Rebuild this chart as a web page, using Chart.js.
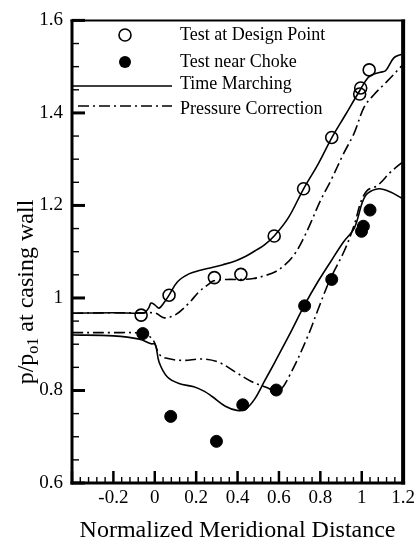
<!DOCTYPE html>
<html>
<head>
<meta charset="utf-8">
<script src="https://cdn.jsdelivr.net/npm/chart.js@4.4.1/dist/chart.umd.min.js"></script>
<style>
  html, body { margin: 0; padding: 0; background: #fff; }
  #wrap { width: 419px; height: 547px; position: relative; }
</style>
</head>
<body>
<div id="wrap"><canvas id="c"></canvas></div>
<script>
// ---- data ----
const designX = [-0.066, 0.069, 0.288, 0.416, 0.577, 0.719, 0.855, 0.99, 0.995, 1.036];
const designY = [0.963, 1.006, 1.044, 1.051, 1.134, 1.236, 1.347, 1.441, 1.454, 1.493];

const chokeX = [-0.058, 0.077, 0.298, 0.425, 0.587, 0.724, 0.855, 0.999, 1.008, 1.04];
const chokeY = [0.923, 0.744, 0.690, 0.769, 0.801, 0.983, 1.040, 1.144, 1.155, 1.190];

const tmDesignX = [-0.4, -0.2, -0.08, -0.05, -0.03, -0.018, 0.0, 0.021, 0.045, 0.069, 0.11, 0.165, 0.22, 0.277, 0.33, 0.389, 0.44, 0.485, 0.53, 0.577, 0.645, 0.719, 0.79, 0.855, 0.92, 0.99, 1.03, 1.059, 1.09, 1.115, 1.155, 1.187, 1.2];
const tmDesignY = [0.967, 0.968, 0.967, 0.968, 0.978, 0.989, 0.985, 0.978, 0.99, 1.006, 1.035, 1.052, 1.06, 1.066, 1.072, 1.080, 1.09, 1.102, 1.115, 1.134, 1.173, 1.236, 1.29, 1.346, 1.395, 1.448, 1.476, 1.484, 1.488, 1.491, 1.519, 1.526, 1.527];

const pcDesignX = [-0.4, -0.2, -0.05, 0.005, 0.046, 0.101, 0.165, 0.213, 0.261, 0.285, 0.349, 0.416, 0.477, 0.53, 0.58, 0.63, 0.676, 0.72, 0.756, 0.8, 0.852, 0.91, 0.964, 1.012, 1.06, 1.12, 1.171, 1.2];
const pcDesignY = [0.967, 0.968, 0.968, 0.967, 0.957, 0.964, 0.989, 1.013, 1.030, 1.037, 1.040, 1.040, 1.042, 1.048, 1.056, 1.072, 1.095, 1.13, 1.165, 1.21, 1.255, 1.31, 1.357, 1.413, 1.44, 1.467, 1.491, 1.505];

const tmChokeX = [-0.4, -0.2, -0.074, -0.018, 0.002, 0.021, 0.061, 0.117, 0.189, 0.24, 0.277, 0.341, 0.397, 0.437, 0.485, 0.53, 0.58, 0.65, 0.724, 0.788, 0.852, 0.91, 0.964, 1.004, 1.028, 1.083, 1.139, 1.195];
const tmChokeY = [0.92, 0.918, 0.911, 0.901, 0.900, 0.861, 0.829, 0.815, 0.808, 0.798, 0.787, 0.766, 0.757, 0.759, 0.783, 0.82, 0.861, 0.92, 0.985, 1.035, 1.08, 1.12, 1.151, 1.208, 1.226, 1.236, 1.229, 1.215];

const pcChokeX = [-0.4, -0.2, -0.058, -0.011, 0.021, 0.053, 0.133, 0.229, 0.309, 0.389, 0.469, 0.549, 0.597, 0.66, 0.74, 0.788, 0.828, 0.852, 0.916, 0.964, 0.996, 1.028, 1.076, 1.139, 1.195];
const pcChokeY = [0.925, 0.925, 0.923, 0.911, 0.879, 0.870, 0.865, 0.868, 0.861, 0.840, 0.819, 0.805, 0.797, 0.84, 0.918, 0.974, 1.02, 1.045, 1.102, 1.158, 1.208, 1.233, 1.243, 1.272, 1.293];

const xTickValues = [-0.2, 0, 0.2, 0.4, 0.6, 0.8, 1, 1.2];
const yTickValues = [0.6, 0.8, 1, 1.2, 1.4, 1.6];

const seriesLabels = ['Test at Design Point', 'Test near Choke', 'Time Marching', 'Pressure Correction'];
const xTitle = 'Normalized Meridional Distance';
const yTitleParts = ['p/p', 'o1', ' at casing wall'];

// ---- helpers ----
const pts = (xs, ys) => xs.map((x, i) => ({ x: x, y: ys[i] }));
const SERIF = "'Liberation Serif', 'Times New Roman', serif";
const DASHDOT = [11, 4, 2, 4];

const lineDs = (label, xs, ys, dash, showInLegend) => ({
  label: label,
  data: pts(xs, ys),
  showLine: true,
  borderColor: '#000',
  borderWidth: 1.6,
  borderDash: dash,
  pointRadius: 0,
  tension: 0.35,
  fill: false,
  order: 2,
  legendShow: showInLegend
});

const datasets = [
  { label: seriesLabels[0], data: pts(designX, designY), showLine: false, pointRadius: 6,
    pointBorderWidth: 1.6, pointBorderColor: '#000', pointBackgroundColor: 'rgba(0,0,0,0)',
    borderColor: '#000', backgroundColor: 'rgba(0,0,0,0)', order: 0, legendShow: true },
  { label: seriesLabels[1], data: pts(chokeX, chokeY), showLine: false, pointRadius: 6,
    pointBorderWidth: 1, pointBorderColor: '#000', pointBackgroundColor: '#000',
    borderColor: '#000', backgroundColor: '#000', order: 0, legendShow: true },
  lineDs(seriesLabels[2], tmDesignX, tmDesignY, [], true),
  lineDs(seriesLabels[2], tmChokeX, tmChokeY, [], false),
  lineDs(seriesLabels[3], pcDesignX, pcDesignY, DASHDOT, true),
  lineDs(seriesLabels[3], pcChokeX, pcChokeY, DASHDOT, false)
];

// ---- custom decorations: frame, inward ticks, legend, y title ----
const decor = {
  id: 'decor',
  afterDraw(chart) {
    const ctx = chart.ctx;
    const xs = chart.scales.x, ys = chart.scales.y;
    const a = chart.chartArea;
    ctx.save();
    ctx.strokeStyle = '#000';
    ctx.fillStyle = '#000';

    // inward minor/major ticks on x (bottom)
    for (let k = 0; k <= 40; k++) {
      const v = -0.4 + k * 0.04;
      const major = (k % 5) === 0;
      const px = xs.getPixelForValue(v);
      ctx.lineWidth = major ? 2.5 : 1.4;
      ctx.beginPath();
      ctx.moveTo(px, a.bottom);
      ctx.lineTo(px, a.bottom - (major ? 12 : 6));
      ctx.stroke();
    }
    // inward ticks on y (left)
    for (let k = 0; k <= 20; k++) {
      const v = 0.6 + k * 0.05;
      const major = (k % 4) === 0;
      const py = ys.getPixelForValue(v);
      ctx.lineWidth = major ? 3 : 1.4;
      ctx.beginPath();
      ctx.moveTo(a.left, py);
      ctx.lineTo(a.left + (major ? 13 : 7), py);
      ctx.stroke();
    }

    // frame
    ctx.lineWidth = 3;
    ctx.beginPath(); ctx.moveTo(a.left, a.top - 1); ctx.lineTo(a.left, a.bottom + 1.5); ctx.stroke();
    ctx.beginPath(); ctx.moveTo(a.left - 1.5, a.bottom); ctx.lineTo(a.right + 2, a.bottom); ctx.stroke();
    ctx.lineWidth = 4;
    ctx.beginPath(); ctx.moveTo(a.right, a.top - 1); ctx.lineTo(a.right, a.bottom + 1.5); ctx.stroke();
    ctx.lineWidth = 2;
    ctx.beginPath(); ctx.moveTo(a.left - 1.5, a.top); ctx.lineTo(a.right + 2, a.top); ctx.stroke();

    // legend
    const ds = chart.data.datasets.filter(d => d.legendShow);
    ctx.font = '18px ' + SERIF;
    ctx.textBaseline = 'middle';
    ctx.textAlign = 'left';
    const rows = [
      { my: 35, ty: 35 },
      { my: 62, ty: 62 },
      { my: 86, ty: 84 },
      { my: 106, ty: 109 }
    ];
    ds.forEach((d, i) => {
      const r = rows[i];
      if (d.showLine) {
        ctx.lineWidth = 1.6;
        ctx.setLineDash(d.borderDash || []);
        ctx.beginPath();
        ctx.moveTo(i === 2 ? 72 : 78, r.my);
        ctx.lineTo(172, r.my);
        ctx.stroke();
        ctx.setLineDash([]);
      } else {
        ctx.beginPath();
        ctx.arc(125, r.my, 6, 0, Math.PI * 2);
        if (d.pointBackgroundColor === '#000') { ctx.fill(); }
        else { ctx.lineWidth = 1.6; ctx.stroke(); }
      }
      ctx.fillText(d.label, 180, r.ty);
    });

    // y axis title with subscript
    ctx.save();
    ctx.translate(27, 292);
    ctx.rotate(-Math.PI / 2);
    const big = '24px ' + SERIF, small = '16px ' + SERIF;
    ctx.font = big; const w1 = ctx.measureText(yTitleParts[0]).width;
    const w3 = ctx.measureText(yTitleParts[2]).width;
    ctx.font = small; const w2 = ctx.measureText(yTitleParts[1]).width;
    let x0 = -(w1 + w2 + w3) / 2;
    ctx.textBaseline = 'alphabetic';
    ctx.font = big; ctx.fillText(yTitleParts[0], x0, 6);
    ctx.font = small; ctx.fillText(yTitleParts[1], x0 + w1, 11);
    ctx.font = big; ctx.fillText(yTitleParts[2], x0 + w1 + w2, 6);
    ctx.restore();

    ctx.restore();
  }
};

new Chart(document.getElementById('c'), {
  type: 'scatter',
  data: { datasets: datasets },
  options: {
    responsive: true,
    maintainAspectRatio: false,
    animation: false,
    events: [],
    layout: { padding: { top: 12, right: 13, left: 0, bottom: 0 } },
    plugins: { legend: { display: false }, tooltip: { enabled: false } },
    scales: {
      x: {
        type: 'linear', min: -0.4, max: 1.2,
        afterBuildTicks: s => { s.ticks = xTickValues.map(v => ({ value: v })); },
        afterFit: s => { s.height = 64; },
        grid: { display: false, drawTicks: false },
        border: { display: false },
        ticks: { color: '#000', padding: 4, font: { family: SERIF, size: 19 }, maxRotation: 0,
                 callback: v => String(v) },
        title: { display: true, text: xTitle, color: '#000', font: { family: SERIF, size: 24 },
                 padding: { top: 0, bottom: 2 } }
      },
      y: {
        type: 'linear', min: 0.6, max: 1.6,
        afterBuildTicks: s => { s.ticks = yTickValues.map(v => ({ value: v })); },
        afterFit: s => { s.width = 72; },
        grid: { display: false, drawTicks: false },
        border: { display: false },
        ticks: { color: '#000', padding: 9, font: { family: SERIF, size: 19 },
                 callback: v => String(v) }
      }
    }
  },
  plugins: [decor]
});
</script>
</body>
</html>
